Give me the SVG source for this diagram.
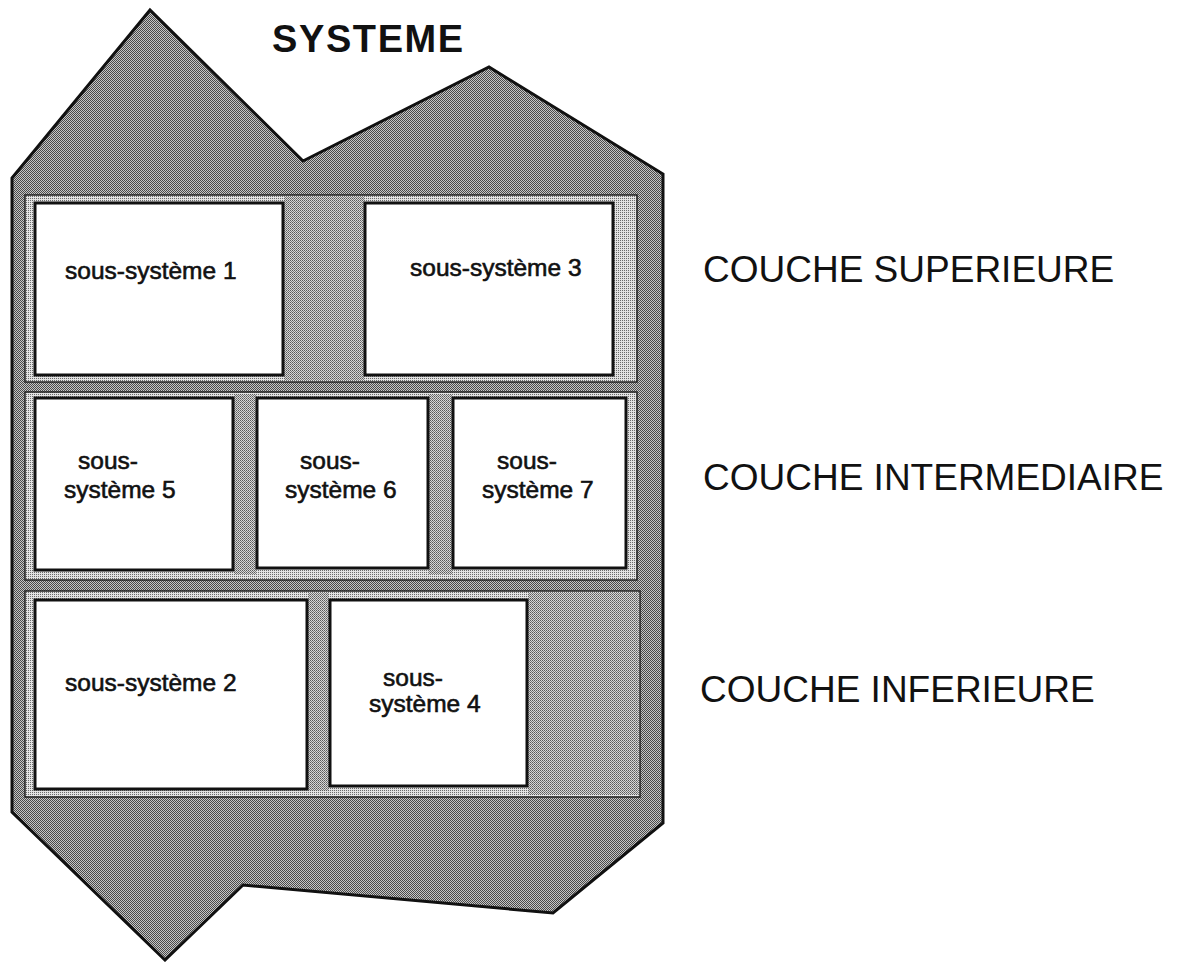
<svg xmlns="http://www.w3.org/2000/svg" width="1181" height="962" viewBox="0 0 1181 962">
  <defs>
    <pattern id="pDark" width="2" height="2" patternUnits="userSpaceOnUse">
      <rect width="2" height="2" fill="#c6c6c6"/>
      <rect width="1" height="1" fill="#4a4a4a"/>
      <rect x="1" y="1" width="1" height="1" fill="#4a4a4a"/>
    </pattern>
    <pattern id="pMed" width="2" height="2" patternUnits="userSpaceOnUse">
      <rect width="2" height="2" fill="#d8d8d8"/>
      <rect width="1" height="1" fill="#5a5a5a"/>
      <rect x="1" y="1" width="1" height="1" fill="#7a7a7a"/>
    </pattern>
    <pattern id="pLight" width="2" height="2" patternUnits="userSpaceOnUse">
      <rect width="2" height="2" fill="#e2e2e2"/>
      <rect width="1" height="1" fill="#6a6a6a"/>
    </pattern>
    <style>
      .outer { fill: url(#pDark); stroke: #111; stroke-width: 3; stroke-linejoin: miter; }
      .layer { fill: url(#pLight); stroke: #222; stroke-width: 1.5; }
      .gap { fill: url(#pMed); stroke: none; }
      .box { fill: #ffffff; stroke: #111; stroke-width: 3; }
      .lbl { font-family: "Liberation Sans", Arial, sans-serif; font-size: 24.5px; fill: #111; stroke: #111; stroke-width: 0.6; }
      .layerlbl { font-family: "Liberation Sans", Arial, sans-serif; font-size: 37px; fill: #111; }
      .title { font-family: "Liberation Sans", Arial, sans-serif; font-size: 38px; font-weight: bold; fill: #111; letter-spacing: 1.6px; }
    </style>
  </defs>
  <rect width="1181" height="962" fill="#ffffff"/>

  <g id="systeme">
    <polygon class="outer" points="12,178 150,10 303,161 489,67 663,174 663,823 553,913 243,885 165,960 12,812"/>
    <text class="title" x="272" y="52">SYSTEME</text>
  </g>

  <g id="couche-superieure">
    <rect class="layer" x="25" y="195" width="612" height="187"/>
    <rect class="gap" x="284" y="197" width="80" height="183"/>
    <text class="layerlbl" x="703" y="282">COUCHE SUPERIEURE</text>
  </g>
  <g id="couche-intermediaire">
    <rect class="layer" x="25" y="392" width="612" height="188"/>
    <rect class="gap" x="234" y="394" width="22" height="180"/>
    <rect class="gap" x="429" y="394" width="23" height="180"/>
    <text class="layerlbl" x="703" y="490">COUCHE INTERMEDIAIRE</text>
  </g>
  <g id="couche-inferieure">
    <rect class="layer" x="25" y="591" width="615" height="206"/>
    <rect class="gap" x="308" y="593" width="21" height="198"/>
    <rect class="gap" x="528" y="593" width="110" height="202"/>
    <text class="layerlbl" x="700" y="702">COUCHE INFERIEURE</text>
  </g>

  <g id="sous-systeme-1">
    <rect class="box" x="35" y="203" width="248" height="172"/>
    <text class="lbl" x="65" y="279">sous-système 1</text>
  </g>
  <g id="sous-systeme-3">
    <rect class="box" x="365" y="203" width="248" height="172"/>
    <text class="lbl" x="410" y="276">sous-système 3</text>
  </g>
  <g id="sous-systeme-5">
    <rect class="box" x="35" y="398" width="198" height="172"/>
    <text class="lbl" x="78" y="469">sous-</text>
    <text class="lbl" x="64" y="498">système 5</text>
  </g>
  <g id="sous-systeme-6">
    <rect class="box" x="257" y="398" width="171" height="170"/>
    <text class="lbl" x="300" y="469">sous-</text>
    <text class="lbl" x="285" y="498">système 6</text>
  </g>
  <g id="sous-systeme-7">
    <rect class="box" x="453" y="398" width="173" height="170"/>
    <text class="lbl" x="497" y="469">sous-</text>
    <text class="lbl" x="482" y="498">système 7</text>
  </g>
  <g id="sous-systeme-2">
    <rect class="box" x="35" y="600" width="272" height="189"/>
    <text class="lbl" x="65" y="691">sous-système 2</text>
  </g>
  <g id="sous-systeme-4">
    <rect class="box" x="330" y="600" width="197" height="186"/>
    <text class="lbl" x="383" y="686">sous-</text>
    <text class="lbl" x="369" y="712">système 4</text>
  </g>

  <g id="connectors"></g>
</svg>
